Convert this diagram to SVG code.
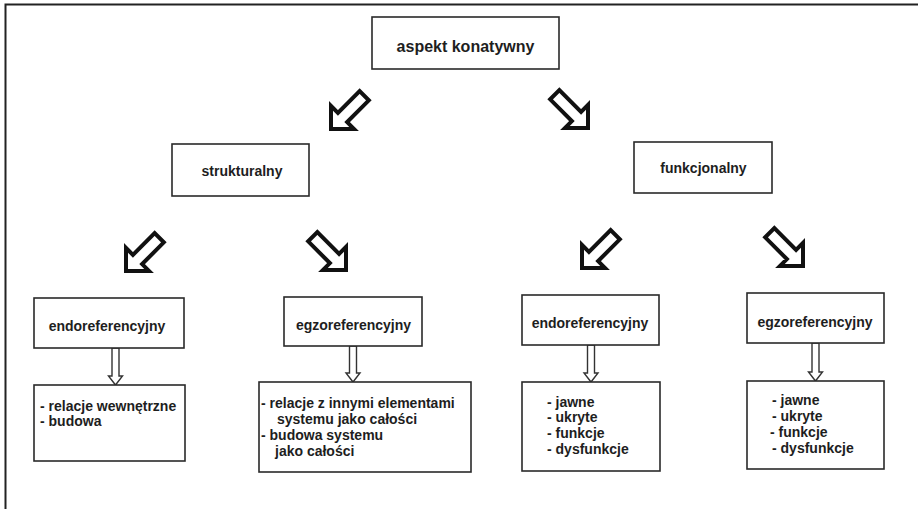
<svg xmlns="http://www.w3.org/2000/svg" xmlns:xlink="http://www.w3.org/1999/xlink" width="918" height="509" viewBox="0 0 918 509">
<style>
.box{fill:#fff;stroke:#2a2a2a;stroke-width:1.6}
.t{font-family:"Liberation Sans",Arial,sans-serif;font-weight:bold;font-size:14px;fill:#1e1e1e}
.big{fill:#fff;stroke:#111;stroke-width:4;stroke-linejoin:miter}
.small{fill:#fff;stroke:#333;stroke-width:1.4}
.frame{stroke:#222;stroke-width:2;fill:none}
</style>
<defs>
<polygon id="bigArrow" points="0,0 -16.3,-16.3 -16.3,-6.5 -47,-6.5 -47,6.5 -16.3,6.5 -16.3,16.3"/>
</defs>
<rect width="918" height="509" fill="#fff"/>
<path class="frame" d="M5.5,509 V4.5 H918"/>

<g id="connectors">
<use xlink:href="#bigArrow" class="big" transform="translate(331,129) rotate(135)"/>
<use xlink:href="#bigArrow" class="big" transform="translate(588,128) rotate(45)"/>
<use xlink:href="#bigArrow" class="big" transform="translate(126,271) rotate(135)"/>
<use xlink:href="#bigArrow" class="big" transform="translate(346,270) rotate(45)"/>
<use xlink:href="#bigArrow" class="big" transform="translate(582,268) rotate(135)"/>
<use xlink:href="#bigArrow" class="big" transform="translate(803,266) rotate(45)"/>
<path class="small" d="M112,348 V376 H108.5 L115.5,385 L122.5,376 H119 V348 Z"/>
<path class="small" d="M349.5,346 V373 H346 L353,382 L360,373 H356.5 V346 Z"/>
<path class="small" d="M587.5,345 V373 H584 L591,382 L598,373 H594.5 V345 Z"/>
<path class="small" d="M812,343 V372 H808.5 L815.5,381 L822.5,372 H819 V343 Z"/>
</g>

<g id="aspekt">
<rect class="box" x="372" y="17" width="187" height="52"/>
<text class="t" x="465.5" y="52" text-anchor="middle" style="font-size:16px">aspekt konatywny</text>
</g>
<g id="strukturalny">
<rect class="box" x="172" y="144" width="137" height="52"/>
<text class="t" x="242" y="176" text-anchor="middle">strukturalny</text>
</g>
<g id="funkcjonalny">
<rect class="box" x="634" y="142" width="138" height="51"/>
<text class="t" x="703.5" y="173" text-anchor="middle">funkcjonalny</text>
</g>
<g id="endo1">
<rect class="box" x="34" y="298" width="150" height="50"/>
<text class="t" x="107" y="331" text-anchor="middle">endoreferencyjny</text>
</g>
<g id="egzo1">
<rect class="box" x="284" y="297" width="138" height="49"/>
<text class="t" x="353.5" y="330" text-anchor="middle">egzoreferencyjny</text>
</g>
<g id="endo2">
<rect class="box" x="522" y="295" width="137" height="50"/>
<text class="t" x="590" y="328" text-anchor="middle">endoreferencyjny</text>
</g>
<g id="egzo2">
<rect class="box" x="747" y="293" width="137" height="50"/>
<text class="t" x="815" y="327" text-anchor="middle">egzoreferencyjny</text>
</g>
<g id="det1">
<rect class="box" x="34" y="385" width="151" height="76"/>
<text class="t" x="40" y="411">- relacje wewnętrzne</text>
<text class="t" x="40" y="426">- budowa</text>
</g>
<g id="det2">
<rect class="box" x="259" y="382" width="212" height="90"/>
<text class="t" x="261" y="408">- relacje z innymi elementami</text>
<text class="t" x="277" y="424">systemu jako całości</text>
<text class="t" x="261" y="440">- budowa systemu</text>
<text class="t" x="275" y="456">jako całości</text>
</g>
<g id="det3">
<rect class="box" x="522" y="382" width="138" height="89"/>
<text class="t" x="547" y="407">- jawne</text>
<text class="t" x="547" y="422">- ukryte</text>
<text class="t" x="547" y="438">- funkcje</text>
<text class="t" x="547" y="454">- dysfunkcje</text>
</g>
<g id="det4">
<rect class="box" x="747" y="381" width="137" height="88"/>
<text class="t" x="772" y="405">- jawne</text>
<text class="t" x="772" y="421">- ukryte</text>
<text class="t" x="770" y="437">- funkcje</text>
<text class="t" x="772" y="453">- dysfunkcje</text>
</g>
</svg>
